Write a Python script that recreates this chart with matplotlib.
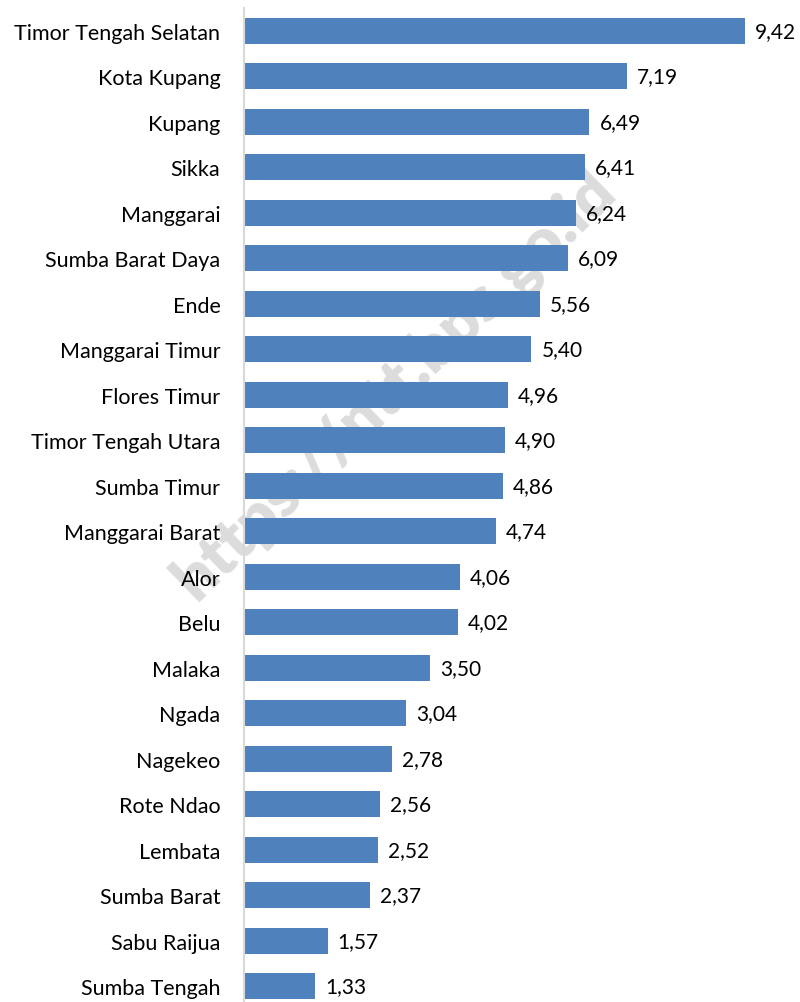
import matplotlib
matplotlib.use('Agg')
import matplotlib.pyplot as plt

regions = ['Timor Tengah Selatan', 'Kota Kupang', 'Kupang', 'Sikka', 'Manggarai',
           'Sumba Barat Daya', 'Ende', 'Manggarai Timur', 'Flores Timur',
           'Timor Tengah Utara', 'Sumba Timur', 'Manggarai Barat', 'Alor', 'Belu',
           'Malaka', 'Ngada', 'Nagekeo', 'Rote Ndao', 'Lembata', 'Sumba Barat',
           'Sabu Raijua', 'Sumba Tengah']
values = [9.42, 7.19, 6.49, 6.41, 6.24, 6.09, 5.56, 5.40, 4.96, 4.90, 4.86, 4.74,
          4.06, 4.02, 3.50, 3.04, 2.78, 2.56, 2.52, 2.37, 1.57, 1.33]

plt.rcParams['font.family'] = ['Lato', 'DejaVu Sans']

fig = plt.figure(figsize=(8, 10.03), dpi=100)
ax = fig.add_axes([244 / 800, 0, 532 / 800, 1 - 9 / 1003])
ax.patch.set_alpha(0)

ypos = list(range(len(regions)))
ax.barh(ypos, values, height=0.57, color='#4f81bd')
for y, v in zip(ypos, values):
    ax.text(v + 0.19, y, f'{v:.2f}'.replace('.', ','), va='center', ha='left',
            fontsize=15, color='black')

ax.set_xlim(0, 10)
ax.set_ylim(-0.5 + (1003 - 9) / 45.5, -0.5)
ax.set_yticks(ypos)
ax.set_yticklabels(regions, fontsize=15.5)
ax.tick_params(axis='y', length=0, pad=17)
ax.set_xticks([])
for s in ['top', 'right', 'bottom']:
    ax.spines[s].set_visible(False)
ax.spines['left'].set_color('#d9d9d9')
ax.spines['left'].set_linewidth(1.5)

# watermark sits behind the bars and labels
fig.text(395 / 800, 1 - 385 / 1003, 'https://ntt.bps.go.id', fontsize=46,
         fontweight='heavy', color='#dcdcdc', rotation=44,
         ha='center', va='center', zorder=-1)

fig.savefig('out.png', dpi=100)
